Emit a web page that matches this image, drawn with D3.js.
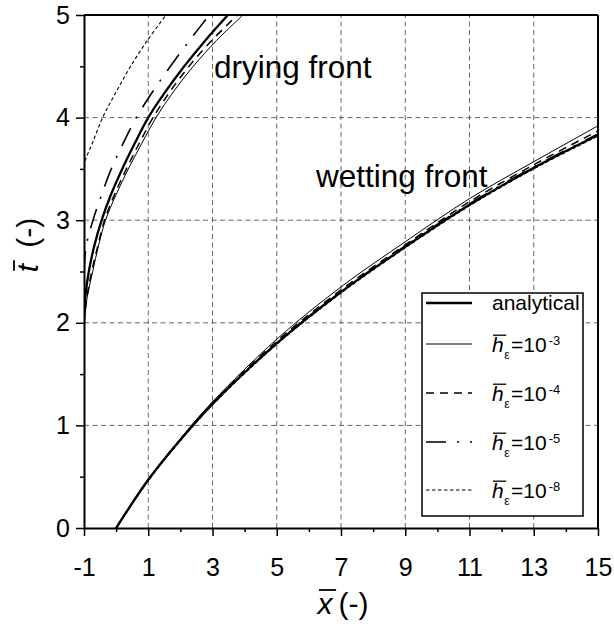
<!DOCTYPE html>
<html><head><meta charset="utf-8">
<script src="https://cdn.jsdelivr.net/npm/d3@7"></script>
<style>
body{margin:0;background:#fff}
svg{display:block}
text{font-family:"Liberation Sans",Arial,Helvetica,sans-serif;fill:#000}
</style>
</head><body>
<svg id="c" width="614" height="624"></svg>
<script>
// ---------- tick / grid values ----------
const xMajorTicks = [-1, 1, 3, 5, 7, 9, 11, 13, 15];
const xMinorTicks = [0, 2, 4, 6, 8, 10, 12, 14];
const yMajorTicks = [0, 1, 2, 3, 4, 5];
const yMinorTicks = [0.5, 1.5, 2.5, 3.5, 4.5];
const xGridValues = [1, 3, 5, 7, 9, 11, 13];
const yGridValues = [1, 2, 3, 4];

// ---------- series ----------
const seriesKeys = ["analytical", "h3", "h4", "h5", "h8"];
const legendExponents = [null, "-3", "-4", "-5", "-8"];

// wetting front: t at given x
const wetX = [0, 1, 2, 3, 5, 7, 9, 11, 13, 15];
const wetAnalytical = [0, 0.47, 0.86, 1.21, 1.80, 2.30, 2.74, 3.15, 3.51, 3.83];
const wetH3 = [0, 0.47, 0.87, 1.23, 1.84, 2.35, 2.79, 3.21, 3.57, 3.92];
const wetH4 = [0, 0.47, 0.86, 1.22, 1.82, 2.32, 2.76, 3.18, 3.54, 3.87];
const wetH5 = [0, 0.47, 0.86, 1.21, 1.80, 2.30, 2.75, 3.16, 3.52, 3.84];
const wetH8 = [0, 0.46, 0.85, 1.20, 1.79, 2.29, 2.73, 3.14, 3.50, 3.82];

// drying front: x at given t
const dryTAnalytical = [2.0, 2.25, 2.5, 2.75, 3.0, 3.25, 3.5, 3.75, 4.0, 4.25, 4.5, 4.75, 5.0];
const dryXAnalytical = [-1, -0.96, -0.85, -0.68, -0.45, -0.16, 0.19, 0.58, 1.00, 1.53, 2.12, 2.77, 3.48];
const dryTH3 = [2.0, 2.25, 2.5, 2.75, 3.0, 3.25, 3.5, 3.75, 4.0, 4.25, 4.5, 4.75, 5.0];
const dryXH3 = [-1, -0.90, -0.73, -0.55, -0.33, 0.00, 0.38, 0.80, 1.24, 1.78, 2.40, 3.12, 3.95];
const dryTH4 = [2.0, 2.25, 2.5, 2.75, 3.0, 3.25, 3.5, 3.75, 4.0, 4.25, 4.5, 4.75, 5.0];
const dryXH4 = [-1, -0.91, -0.76, -0.57, -0.36, -0.05, 0.32, 0.72, 1.15, 1.67, 2.27, 2.97, 3.78];
const dryTH5 = [2.5, 2.75, 3.0, 3.25, 3.5, 3.75, 4.0, 4.25, 4.5, 4.75, 5.0];
const dryXH5 = [-1, -0.93, -0.72, -0.45, -0.15, 0.22, 0.63, 1.13, 1.69, 2.28, 2.90];
const dryTH8 = [3.52, 3.6, 3.75, 4.0, 4.25, 4.5, 4.75, 5.0];
const dryXH8 = [-1, -0.94, -0.74, -0.42, 0.00, 0.45, 0.97, 1.55];

const wetData = {
  analytical: wetAnalytical, h3: wetH3, h4: wetH4, h5: wetH5, h8: wetH8
};
const dryData = {
  analytical: [dryTAnalytical, dryXAnalytical],
  h3: [dryTH3, dryXH3], h4: [dryTH4, dryXH4], h5: [dryTH5, dryXH5], h8: [dryTH8, dryXH8]
};

// ---------- styles ----------
const styles = {
  analytical: {w: 2.3, dash: null},
  h3: {w: 1.0, dash: null},
  h4: {w: 1.5, dash: "8,6"},
  h5: {w: 1.6, dash: "20,11,2,11"},
  h8: {w: 1.1, dash: "3.5,2.5"}
};

const svg = d3.select("#c");
const L = 84, R = 598, T = 15, B = 528;
const x = d3.scaleLinear().domain([-1, 15]).range([L, R]);
const y = d3.scaleLinear().domain([0, 5]).range([B, T]);

// grid
const grid = svg.append("g").attr("stroke", "#666").attr("stroke-width", 1).attr("stroke-dasharray", "5,3.5");
grid.selectAll("line.gx").data(xGridValues).join("line")
  .attr("x1", d => x(d)).attr("x2", d => x(d)).attr("y1", B).attr("y2", T);
grid.selectAll("line.gy").data(yGridValues).join("line")
  .attr("x1", L).attr("x2", R).attr("y1", d => y(d)).attr("y2", d => y(d));

// clip
svg.append("clipPath").attr("id", "clip").append("rect")
  .attr("x", L).attr("y", T).attr("width", R - L).attr("height", B - T);

const plot = svg.append("g").attr("clip-path", "url(#clip)");
const line = d3.line().x(d => x(d.x)).y(d => y(d.t)).curve(d3.curveCatmullRom.alpha(0.5));

seriesKeys.forEach(k => {
  const st = styles[k];
  const wet = wetX.map((xv, i) => ({x: xv, t: wetData[k][i]}));
  const [dt, dx] = dryData[k];
  const dry = dt.map((tv, i) => ({x: dx[i], t: tv}));
  [wet, dry].forEach(pts => {
    plot.append("path").datum(pts).attr("d", line)
      .attr("fill", "none").attr("stroke", "#000")
      .attr("stroke-width", st.w)
      .attr("stroke-dasharray", st.dash);
  });
});

// annotations
svg.append("text").attr("x", 214).attr("y", 78).attr("font-size", 31.5).text("drying front");
svg.append("text").attr("x", 316).attr("y", 187).attr("font-size", 31.5).text("wetting front");

// frame top & right
svg.append("line").attr("x1", L).attr("x2", R).attr("y1", T).attr("y2", T).attr("stroke", "#000").attr("stroke-width", 2);
svg.append("line").attr("x1", R).attr("x2", R).attr("y1", T).attr("y2", B).attr("stroke", "#000").attr("stroke-width", 2);

// axes
const fs = 25;
const fmt = d => String(d);
svg.append("g").attr("transform", `translate(0,${B})`)
  .call(d3.axisBottom(x).tickValues(xMajorTicks).tickSize(8).tickSizeOuter(0).tickPadding(22).tickFormat(fmt));
svg.append("g").attr("transform", `translate(0,${B})`)
  .call(d3.axisBottom(x).tickValues(xMinorTicks).tickSize(4).tickSizeOuter(0).tickFormat(""))
  .select(".domain").remove();
svg.append("g").attr("transform", `translate(${L},0)`)
  .call(d3.axisLeft(y).tickValues(yMajorTicks).tickSize(8).tickSizeOuter(0).tickPadding(6).tickFormat(fmt));
svg.append("g").attr("transform", `translate(${L},0)`)
  .call(d3.axisLeft(y).tickValues(yMinorTicks).tickSize(4).tickSizeOuter(0).tickFormat(""))
  .select(".domain").remove();
svg.selectAll(".domain").attr("stroke-width", 2).attr("stroke", "#000");
svg.selectAll(".tick line").attr("stroke-width", 1.5).attr("stroke", "#000");
svg.selectAll(".tick text").attr("font-size", fs).attr("font-family", '"Liberation Sans",Arial,sans-serif').attr("fill", "#000");

// overlined italic letter helper
function overLetter(g, x0, y0, letter, size, barW) {
  const t = g.append("text").attr("x", x0).attr("y", y0).attr("font-size", size)
    .attr("font-style", "italic").text(letter);
  const w = t.node().getComputedTextLength();
  g.append("line").attr("x1", x0 + size * 0.05).attr("x2", x0 + w + size * 0.12)
    .attr("y1", y0 - size * 0.8).attr("y2", y0 - size * 0.8)
    .attr("stroke", "#000").attr("stroke-width", barW);
  return w;
}

// x title
const xt = svg.append("g");
let w1 = overLetter(xt, 0, 0, "x", 30, 1.8);
xt.append("text").attr("x", w1 + 6).attr("y", 0).attr("font-size", 30).text("(-)");
let bb = xt.node().getBBox();
xt.attr("transform", `translate(${344 - bb.width / 2},614)`);

// y title
const ytOuter = svg.append("g").attr("transform", "translate(38,245) rotate(-90)");
const yt = ytOuter.append("g");
let w2 = overLetter(yt, 0, 0, "t", 30, 1.8);
yt.append("text").attr("x", w2 + 16).attr("y", 0).attr("font-size", 30).text("(-)");
bb = yt.node().getBBox();
yt.attr("transform", `translate(${-bb.width / 2},0)`);

// legend
const lg = svg.append("g");
lg.append("rect").attr("x", 422).attr("y", 293).attr("width", 161).attr("height", 223)
  .attr("fill", "#fff").attr("stroke", "#000").attr("stroke-width", 1.5);
const legendY = [303, 344, 393, 442, 490];
seriesKeys.forEach((k, i) => {
  const st = styles[k];
  const ly = legendY[i];
  lg.append("line").attr("x1", 426).attr("x2", 472).attr("y1", ly).attr("y2", ly)
    .attr("stroke", "#000").attr("stroke-width", st.w).attr("stroke-dasharray", st.dash);
  if (legendExponents[i] === null) {
    lg.append("text").attr("x", 492).attr("y", ly + 7).attr("font-size", 21).text(k);
  } else {
    const base = ly + 8;
    const w = overLetter(lg, 492, base, "h", 21, 1.3);
    lg.append("text").attr("x", 492 + w + 0.5).attr("y", base + 7).attr("font-size", 12).text("ε");
    const eq = lg.append("text").attr("x", 511).attr("y", base).attr("font-size", 21).text("=10");
    const ew = eq.node().getComputedTextLength();
    lg.append("text").attr("x", 511 + ew + 2).attr("y", base - 7).attr("font-size", 13).text(legendExponents[i]);
  }
});
</script>
</body></html>
